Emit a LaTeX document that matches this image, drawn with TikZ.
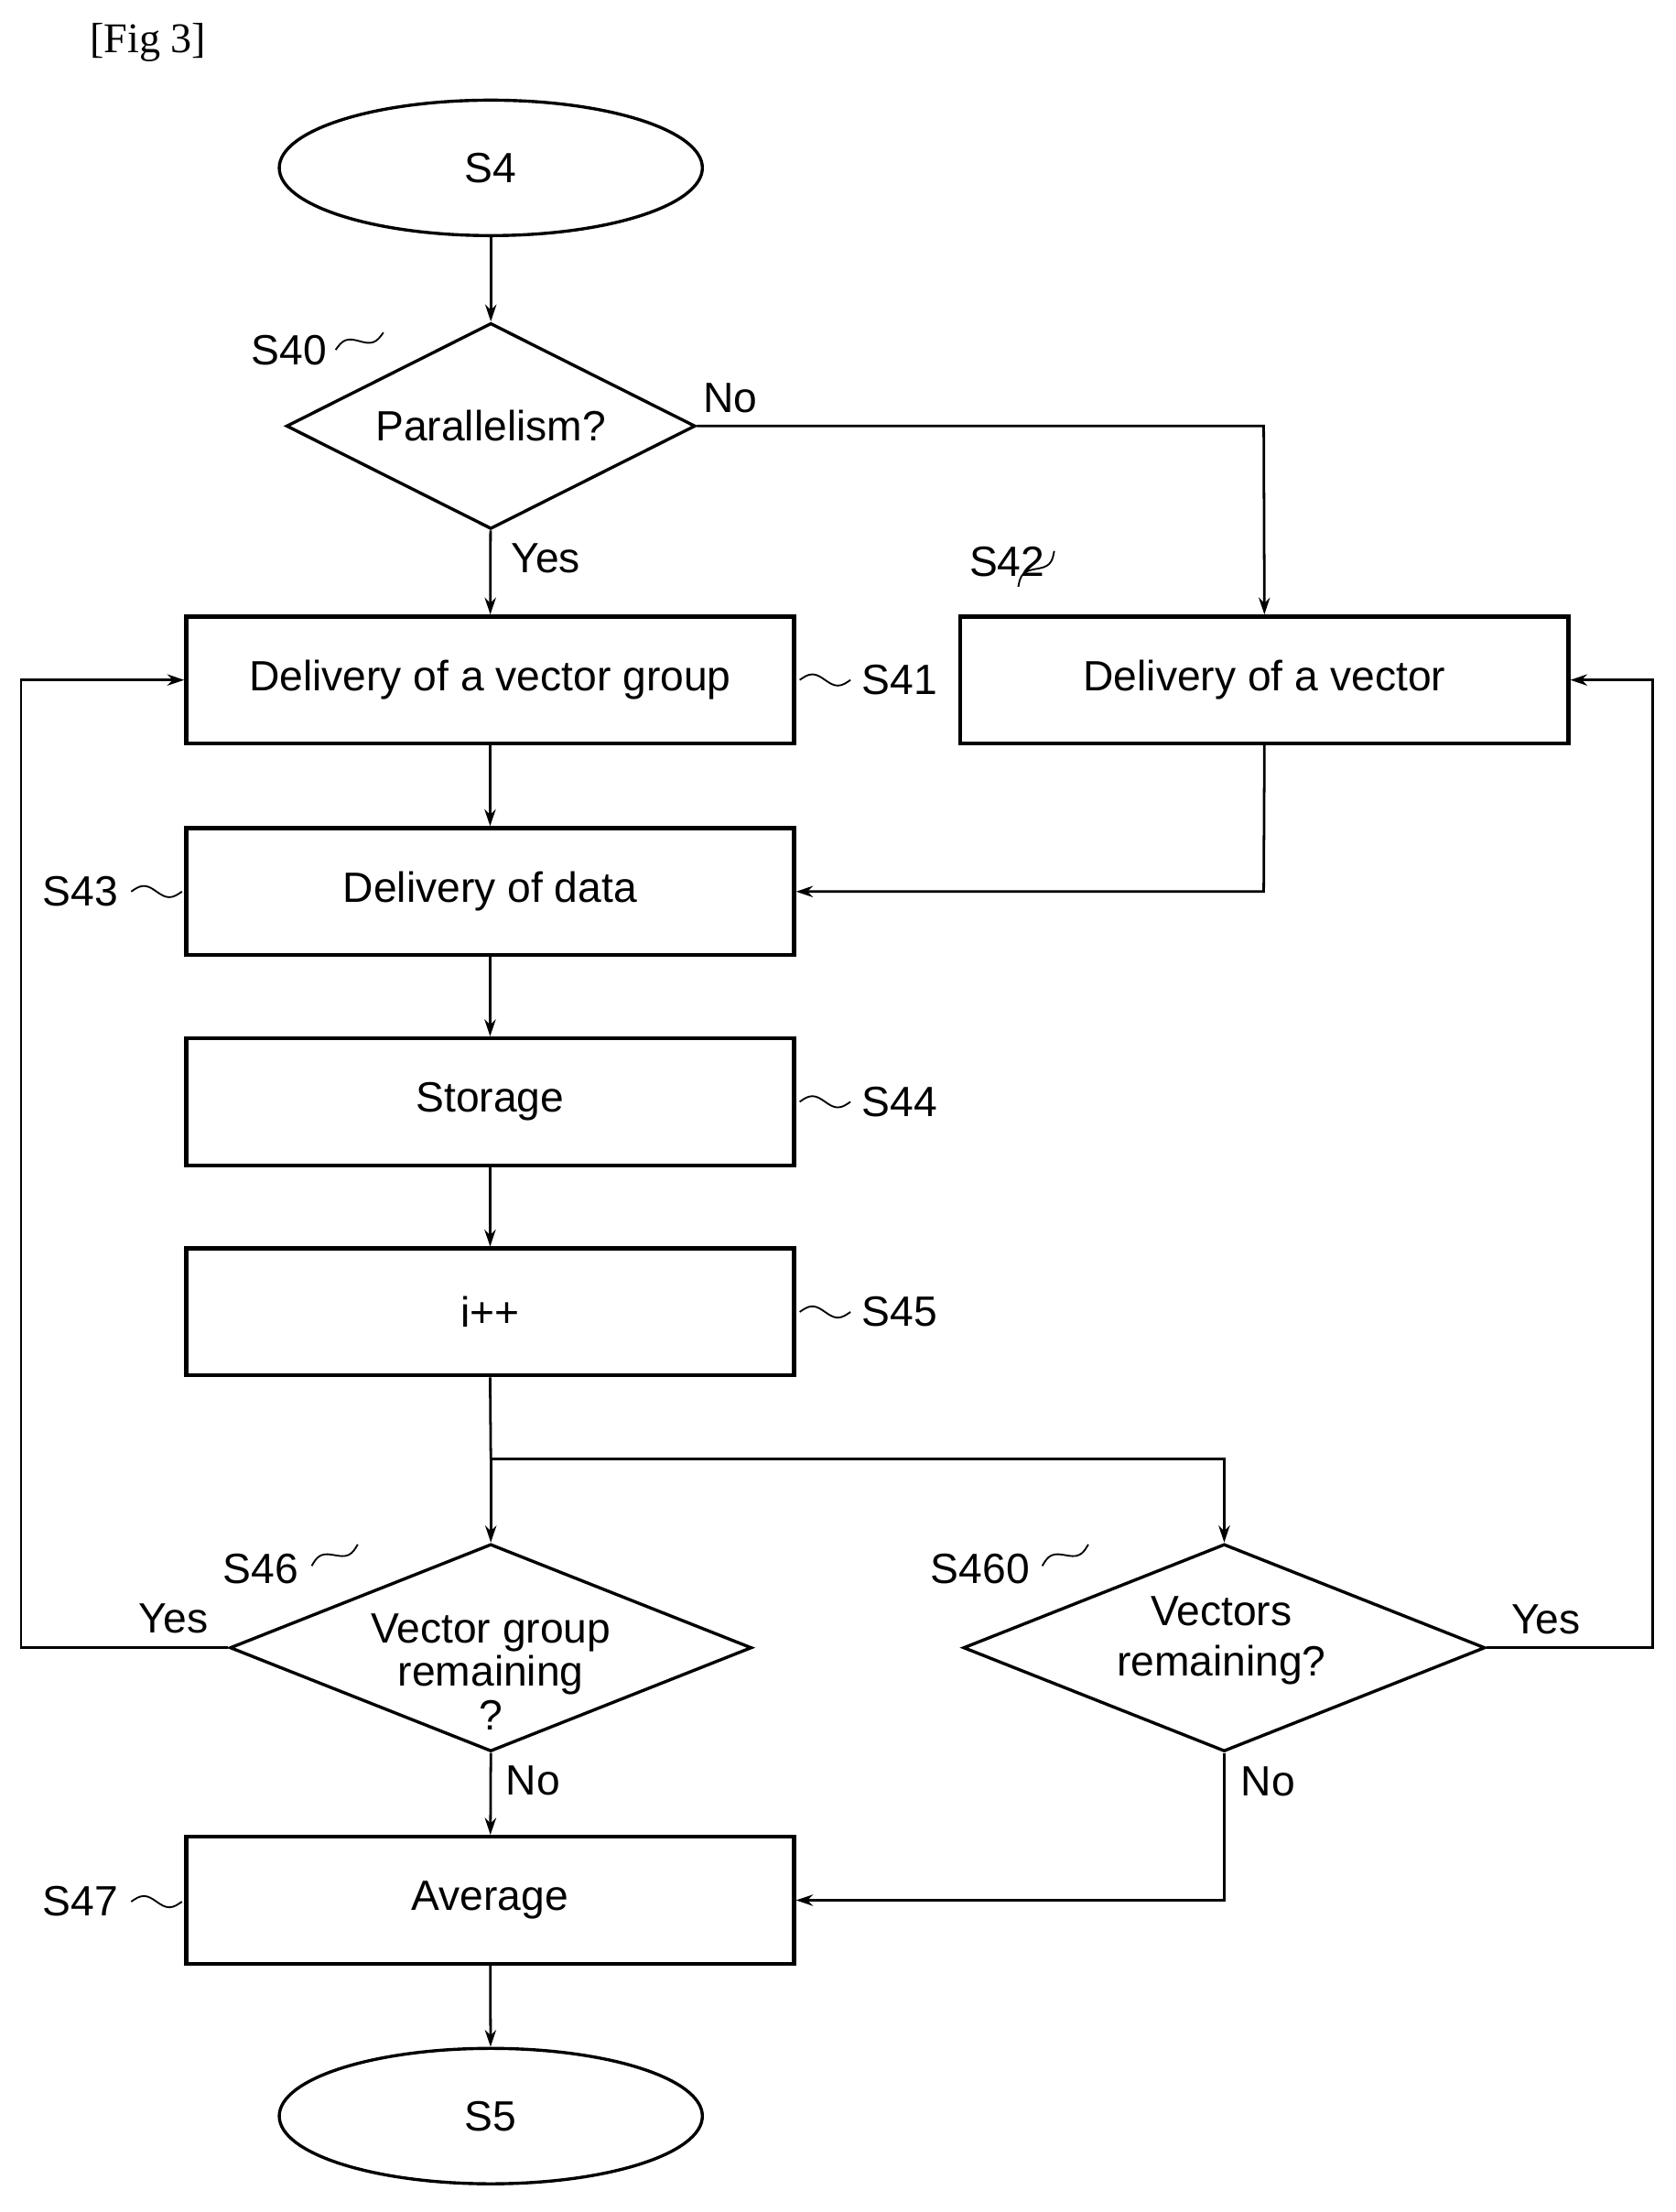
\documentclass[tikz,border=0pt]{standalone}
\usepackage{fontspec}
\setmainfont{Liberation Sans}
\newfontfamily\figfont{Liberation Serif}
\usetikzlibrary{shapes.geometric,arrows.meta}
\begin{document}
\begin{tikzpicture}[x=0.5pt,y=-0.5pt,
  every node/.style={font=\fontsize{15}{17}\selectfont},
  box/.style={draw,line width=1.4pt,minimum width=215.5pt,minimum height=45pt,inner sep=0pt},
  dia/.style={draw,line width=1.1pt,diamond,aspect=2,inner sep=0pt},
  ell/.style={draw,line width=1.1pt,ellipse,minimum width=150pt,minimum height=48pt},
  arr/.style={line width=0.9pt,-{Stealth[length=6pt,width=4pt]}},
  ln/.style={line width=0.9pt},
  lab/.style={inner sep=1pt},
  tl/.pic={\draw[line width=0.6pt] (0,0) sin (9,-4) cos (18,0) sin (27,4) cos (36,0);}
]
\useasboundingbox (0,0) rectangle (1188,1568);
\node[font=\figfont\fontsize{15}{17}\selectfont] (fig) at (105,30) {[Fig 3]};
\node[ell] (s4) at (348,119) {S4};
\node[dia,minimum width=145pt,minimum height=73pt] (s40) at (348,302) {};
\node (s40t) at (348,302) {Parallelism?};
\node[box] (s41) at (347.5,482) {Delivery of a vector group};
\node[box] (s42) at (896.5,482) {Delivery of a vector};
\node[box] (s43) at (347.5,632) {Delivery of data};
\node[box] (s44) at (347.5,781) {Storage};
\node[box] (s45) at (347.5,930) {i++};
\coordinate (j) at (348,1034);
\coordinate (j2) at (868,1034);
\node[dia,minimum width=185pt,minimum height=73.5pt] (s46) at (348,1168) {};
\node[align=center,font=\fontsize{15}{15.5}\selectfont] (s46t) at (348,1185) {Vector group\\remaining\\?};
\node[dia,minimum width=185pt,minimum height=73.5pt] (s460) at (868,1168) {};
\node[align=center,font=\fontsize{15}{18}\selectfont] (s460t) at (866,1163) {Vectors\\remaining?};
\node[box] (s47) at (347.5,1347) {Average};
\node[ell] (s5) at (348,1500) {S5};
% connectors
\draw[arr] (s4) -- (s40);
\draw[arr] (s40) -- (s41);
\coordinate (c1) at (896,302);
\draw[arr] (s40.east) -- (c1) -- (s42.north);
\draw[arr] (s41) -- (s43);
\coordinate (c2) at (896,632);
\draw[arr] (s42.south) -- (c2) -- (s43.east);
\draw[arr] (s43) -- (s44);
\draw[arr] (s44) -- (s45);
\draw[ln] (s45.south) -- (j);
\draw[arr] (j) -- (s46.north);
\draw[arr] (j) -- (j2) -- (s460.north);
\coordinate (l1) at (15,1168); \coordinate (l2) at (15,482);
\draw[arr] (s46.west) -- (l1) -- (l2) -- (s41.west);
\coordinate (r1) at (1172,1168); \coordinate (r2) at (1172,482);
\draw[arr] (s460.east) -- (r1) -- (r2) -- (s42.east);
\draw[arr] (s46.south) -- (s47);
\coordinate (r3) at (868,1347);
\draw[arr] (s460.south) -- (r3) -- (s47.east);
\draw[arr] (s47) -- (s5);
% branch labels
\node[lab] (n1) at (518,282) {No};
\node[lab] (y1) at (387,396) {Yes};
\node[lab] (y2) at (123,1147) {Yes};
\node[lab] (n2) at (378,1262) {No};
\node[lab] (y3) at (1096,1148) {Yes};
\node[lab] (n3) at (899,1263) {No};
% step labels
\node[lab] (l40) at (205,248) {S40};
\pic[rotate=20] at (238,248) {tl};
\node[lab] (l42) at (714,398) {S42};
\pic[rotate=45] at (722,416) {tl};
\node[lab] (l41) at (638,482) {S41};
\pic at (567,482) {tl};
\node[lab] (l43) at (57,632) {S43};
\pic at (93,632) {tl};
\node[lab] (l44) at (638,781) {S44};
\pic at (567,781) {tl};
\node[lab] (l45) at (638,930) {S45};
\pic at (567,930) {tl};
\node[lab] (l46) at (185,1112) {S46};
\pic[rotate=25] at (221,1110) {tl};
\node[lab] (l460) at (695,1112) {S460};
\pic[rotate=25] at (739,1110) {tl};
\node[lab] (l47) at (57,1348) {S47};
\pic at (93,1348) {tl};
\end{tikzpicture}
\end{document}
